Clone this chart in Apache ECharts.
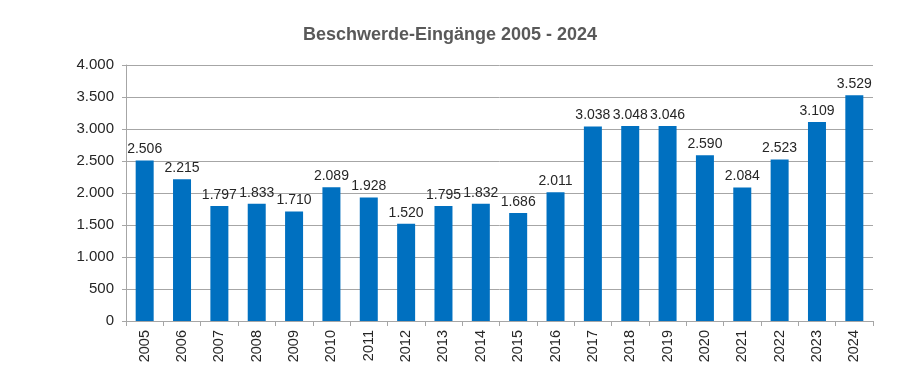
<!DOCTYPE html>
<html><head><meta charset="utf-8">
<script src="https://cdn.jsdelivr.net/npm/echarts@6/dist/echarts.min.js"></script>
<style>html,body{margin:0;padding:0;background:#fff}#c{width:900px;height:372px}</style>
</head><body><div id="c"></div>
<script>
const categories = ['2005','2006','2007','2008','2009','2010','2011','2012','2013','2014','2015','2016','2017','2018','2019','2020','2021','2022','2023','2024'];
const values = [2506,2215,1797,1833,1710,2089,1928,1520,1795,1832,1686,2011,3038,3048,3046,2590,2084,2523,3109,3529];
const titleText = 'Beschwerde-Eingänge 2005 - 2024';
const fmt = v => String(v).replace(/\B(?=(\d{3})+(?!\d))/g, '.');
const chart = echarts.init(document.getElementById('c'));
chart.setOption({
  animation: false,
  textStyle: {fontFamily: 'Liberation Sans, Arial, sans-serif'},
  title: {text: titleText, left: 'center', top: 21,
    textStyle: {fontSize: 18, fontWeight: 'bold', color: '#595959', fontFamily: 'Liberation Sans, Arial, sans-serif'}},
  grid: {left: 126, right: 27, top: 65, bottom: 51},
  xAxis: {type: 'category', data: categories,
    axisLine: {lineStyle: {color: '#A6A6A6', width: 1}},
    axisTick: {show: true, alignWithLabel: false, length: 5, lineStyle: {color: '#A6A6A6'}},
    axisLabel: {rotate: 90, color: '#262626', fontSize: 14.5, margin: 9}},
  yAxis: {type: 'value', min: 0, max: 4000, interval: 500,
    axisLine: {show: true, lineStyle: {color: '#A6A6A6', width: 1}},
    axisTick: {show: true, length: 4, lineStyle: {color: '#A6A6A6'}},
    splitLine: {lineStyle: {color: '#A6A6A6', width: 1}},
    axisLabel: {color: '#262626', fontSize: 15, margin: 12, formatter: fmt}},
  series: [{type: 'bar', data: values, barWidth: 18,
    itemStyle: {color: '#0070C0'},
    label: {show: true, position: 'top', distance: 4, color: '#262626', fontSize: 14, formatter: p => fmt(p.value)}}]
});
</script></body></html>
